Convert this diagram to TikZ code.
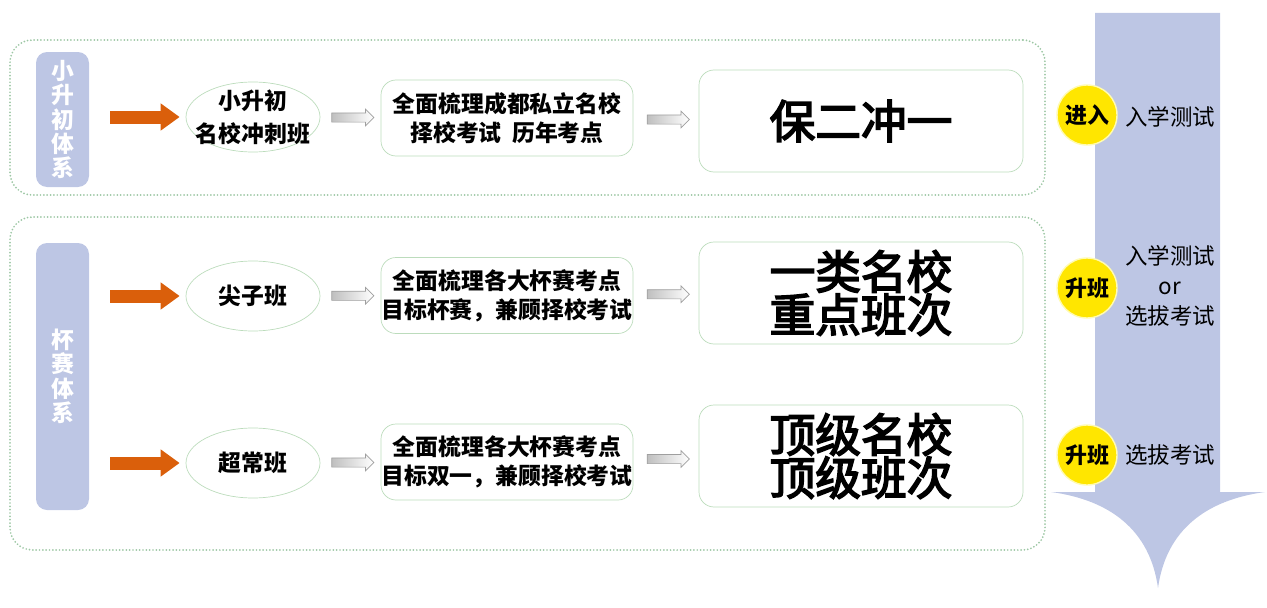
\documentclass[tikz,border=0pt]{standalone}
\usepackage{fontspec}
\setmainfont{Noto Sans CJK SC}
\newfontfamily\goalfont[FakeBold=3.5]{Noto Sans CJK SC}
\usetikzlibrary{arrows.meta,positioning,calc,shapes.arrows,shapes.geometric}
\definecolor{barblue}{HTML}{BDC6E4}
\definecolor{framegreen}{HTML}{9DC7A4}
\definecolor{ringgreen}{HTML}{BCDCBC}
\definecolor{feedorange}{HTML}{DA5F0B}
\definecolor{dotyellow}{HTML}{FFE600}
\tikzset{
  framebox/.style={draw=framegreen, line width=1.1pt, dash pattern=on 0pt off 1.9pt,
    line cap=round, rounded corners=0.45cm},
  sysbar/.style={fill=barblue, rounded corners=0.22cm, minimum width=1.06cm,
    text=white, align=center, font=\bfseries\fontsize{13}{13.9}\selectfont},
  classell/.style={ellipse, draw=ringgreen, minimum width=2.68cm, minimum height=1.4cm,
    inner xsep=-0.22cm, inner ysep=-0.1cm, align=center,
    font=\bfseries\fontsize{13}{18.8}\selectfont},
  planbox/.style={draw=ringgreen, rounded corners=0.3cm, minimum width=5.04cm,
    minimum height=1.52cm, inner xsep=0pt, align=center,
    font=\bfseries\fontsize{13}{16.6}\selectfont},
  goalbox/.style={draw=ringgreen, rounded corners=0.3cm, minimum width=6.48cm,
    minimum height=2.04cm, align=center, font=\goalfont\fontsize{26}{24.5}\selectfont},
  hollow/.style={single arrow, draw=gray!75, left color=gray!50, right color=white,
    minimum height=0.84cm, inner xsep=0pt, inner ysep=0.085cm,
    single arrow head extend=0.075cm, single arrow head indent=0pt},
  feed/.style={feedorange, line width=0.26cm, -{Triangle[length=0.38cm,width=0.52cm]}},
  stepdot/.style={circle, fill=dotyellow, draw=yellow!30, line width=0.8pt,
    minimum size=1.2cm, inner sep=0pt, font=\bfseries\fontsize{12.5}{14}\selectfont},
  testlbl/.style={align=center, font=\fontsize{12.8}{17}\selectfont}
}
\begin{document}
\begin{tikzpicture}
    \useasboundingbox (0,0) rectangle (25.34,12.14);
    % Big downward arrow
    \fill[barblue] (21.9,11.88) -- (24.4,11.88) -- (24.4,2.3) -- (25.3,2.3)
      .. controls (24.12,2.14) and (23.32,1.54) .. (23.16,0.38)
      .. controls (23.0,1.54) and (22.2,2.14) .. (21.02,2.3)
      -- (21.9,2.3) -- cycle;
    % Frames
    \node[framebox, minimum width=20.7cm, minimum height=3.1cm] (topframe) at (10.55,9.79) {};
    \node[framebox, minimum width=20.7cm, minimum height=6.66cm] (cupframe) at (10.55,4.47) {};
    % Systems
    \node[sysbar, minimum height=2.7cm] (xsc) at (1.25,9.75) {小\\升\\初\\体\\系};
    \node[sysbar, minimum height=5.34cm] (bs) at (1.25,4.61) {杯\\赛\\体\\系};
    % Classes
    \node[classell] (mxcc) at (5.06,9.8) {小升初\\名校冲刺班};
    \node[classell] (jzb) at (5.06,6.22) {尖子班};
    \node[classell] (ccb) at (5.06,2.88) {超常班};
    % Plans
    \node[planbox] (plan1) at (10.14,9.78) {全面梳理成都私立名校\\择校考试\ \ 历年考点};
    \node[planbox] (plan2) at (10.14,6.23) {全面梳理各大杯赛考点\\目标杯赛，兼顾择校考试};
    \node[planbox] (plan3) at (10.14,2.9) {全面梳理各大杯赛考点\\目标双一，兼顾择校考试};
    % Goals
    \node[goalbox] (goal1) at (17.22,9.72) {保二冲一};
    \node[goalbox] (goal2) at (17.22,6.28) {一类名校\\重点班次};
    \node[goalbox] (goal3) at (17.22,3.02) {顶级名校\\顶级班次};
    % Steps
    \node[stepdot] (enter) at (21.74,9.84) {进入};
    \node[stepdot] (up1) at (21.74,6.38) {升班};
    \node[stepdot] (up2) at (21.74,3.04) {升班};
    \node[testlbl] (test1) at (23.4,9.8) {入学测试};
    \node[testlbl] (test2) at (23.4,6.42) {入学测试\\or\\选拔考试};
    \node[testlbl] (test3) at (23.4,3.04) {选拔考试};
    % Hollow arrows
    \node[hollow] (h11) at ($(mxcc.east)!0.5!(plan1.west)$) {};
    \node[hollow] (h12) at ($(plan1.east)!0.5!(goal1.west)$) {};
    \node[hollow] (h21) at ($(jzb.east)!0.5!(plan2.west)$) {};
    \node[hollow] (h22) at ($(plan2.east)!0.5!(goal2.west)$) {};
    \node[hollow] (h31) at ($(ccb.east)!0.5!(plan3.west)$) {};
    \node[hollow] (h32) at ($(plan3.east)!0.5!(goal3.west)$) {};
    % Arrows
    \draw[feed] ([xshift=0.42cm]xsc.east |- mxcc.west) -- ([xshift=-0.12cm]mxcc.west);
    \draw[feed] ([xshift=0.42cm]bs.east |- jzb.west) -- ([xshift=-0.12cm]jzb.west);
    \draw[feed] ([xshift=0.42cm]bs.east |- ccb.west) -- ([xshift=-0.12cm]ccb.west);
\end{tikzpicture}
\end{document}
